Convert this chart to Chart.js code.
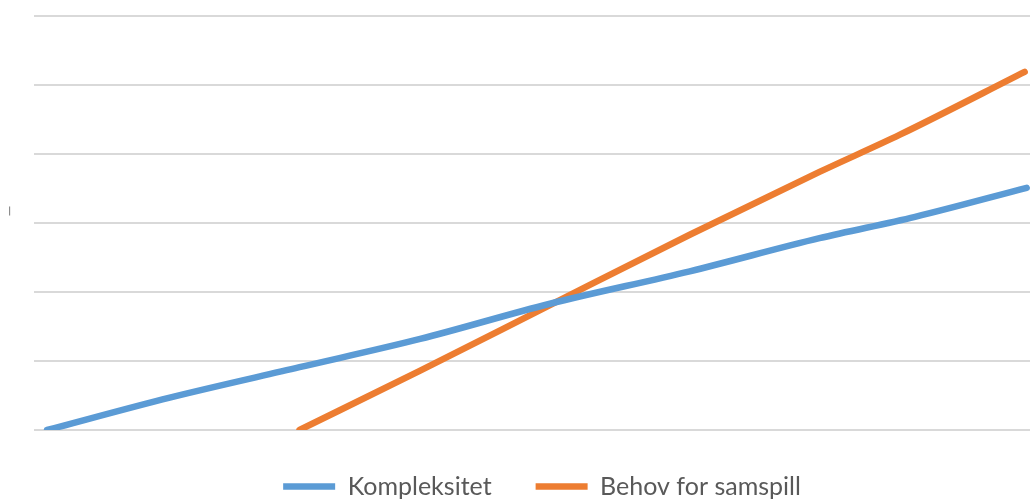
<!DOCTYPE html>
<html>
<head>
<meta charset="utf-8">
<script src="https://cdn.jsdelivr.net/npm/chart.js@4/dist/chart.umd.min.js"></script>
<style>
  html, body { margin: 0; padding: 0; background: #ffffff; overflow: hidden; width: 1030px; height: 500px; }
  #wrap { position: absolute; left: 0; top: 0; width: 1084px; height: 510px; }
</style>
</head>
<body>
<div id="wrap"><canvas id="chart" width="1084" height="510"></canvas></div>
<script>
// Two rising curves on a shared 0–6 scale; the horizontal axis runs 0–104.4.
const seriesNames = ['Kompleksitet', 'Behov for samspill'];

const kompleksitetX = [1.3, 13.5, 26.4, 38.4, 51.3, 65.2, 78.1, 87.6, 98.7];
const kompleksitetY = [0, 0.47, 0.91, 1.32, 1.83, 2.30, 2.78, 3.09, 3.51];

const samspillX = [26.4, 38.4, 51.3, 65.2, 78.1, 86.1, 98.5];
const samspillY = [0, 0.86, 1.81, 2.83, 3.74, 4.28, 5.19];

const yTicks = [0, 1, 2, 3, 4, 5, 6];
const xRange = [0, 104.4];

const toPoints = (xs, ys) => xs.map((x, i) => ({ x: x, y: ys[i] }));

new Chart(document.getElementById('chart'), {
  type: 'line',
  data: {
    datasets: [
      {
        label: seriesNames[0],
        data: toPoints(kompleksitetX, kompleksitetY),
        borderColor: '#5b9bd5',
        backgroundColor: '#5b9bd5',
        borderWidth: 6.5,
        borderCapStyle: 'round',
        borderJoinStyle: 'round',
        pointRadius: 0,
        cubicInterpolationMode: 'monotone'
      },
      {
        label: seriesNames[1],
        data: toPoints(samspillX, samspillY),
        borderColor: '#ed7d31',
        backgroundColor: '#ed7d31',
        borderWidth: 6.5,
        borderCapStyle: 'round',
        borderJoinStyle: 'round',
        pointRadius: 0,
        cubicInterpolationMode: 'monotone'
      }
    ]
  },
  options: {
    responsive: false,
    animation: false,
    devicePixelRatio: 1,
    layout: { padding: { left: 0, right: 0, top: 16, bottom: 1 } },
    scales: {
      x: {
        type: 'linear',
        display: false,
        min: xRange[0],
        max: xRange[1]
      },
      y: {
        type: 'linear',
        min: yTicks[0],
        max: yTicks[yTicks.length - 1],
        afterBuildTicks: (scale) => { scale.ticks = yTicks.map(v => ({ value: v })); },
        ticks: { display: false },
        border: { display: false },
        grid: { color: '#d9d9d9', lineWidth: 2, drawTicks: false },
        title: {
          display: true,
          text: '\u2003\u2002\u2013',
          color: '#8a8a8a',
          font: { family: 'Liberation Sans', size: 16, lineHeight: '19px' },
          padding: { top: 0, bottom: 15 }
        }
      }
    },
    plugins: {
      tooltip: { enabled: false },
      legend: {
        position: 'bottom',
        labels: {
          usePointStyle: true,
          pointStyle: 'line',
          pointStyleWidth: 52,
          padding: 44,
          color: '#595959',
          font: { family: 'Lato', size: 25 }
        }
      }
    }
  }
});
</script>
</body>
</html>
